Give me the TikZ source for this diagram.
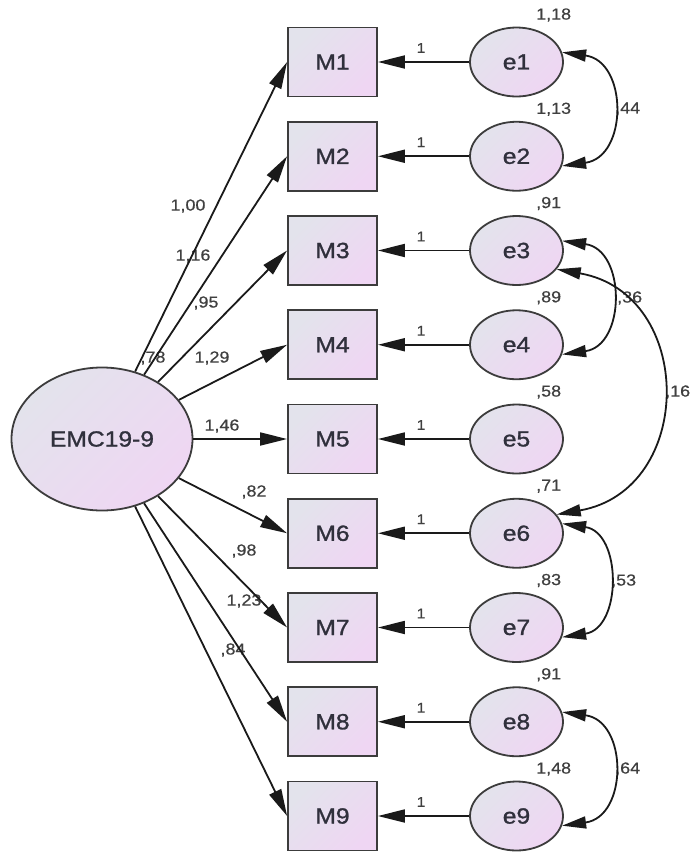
\documentclass[tikz,border=0pt]{standalone}
\usepackage{fontspec}
\setmainfont{Liberation Sans}[FakeStretch=1.12]
\newfontfamily\nodefont{Liberation Sans}[FakeStretch=1.12,FakeBold=1.2]
\newfontfamily\numfont{Liberation Sans}[FakeStretch=1.12,FakeBold=0.5]
\usetikzlibrary{arrows.meta,shapes.geometric}
\definecolor{fillA}{HTML}{E3E3EC}
\definecolor{fillB}{HTML}{EFD6F3}
\definecolor{txt}{HTML}{30303C}
\definecolor{lbl}{HTML}{404040}
\definecolor{ln}{HTML}{1A1A1A}
\begin{document}
\begin{tikzpicture}[x=1pt,y=-1pt,
  shadedbox/.style={top color=fillA,bottom color=fillB,shading angle=45,draw=ln!85!white,line width=1.8pt,text=txt,font=\nodefont\fontsize{22}{22}\selectfont,inner sep=0pt},
  obs/.style={shadedbox,rectangle,minimum width=89pt,minimum height=69pt},
  err/.style={shadedbox,ellipse,minimum width=93pt,minimum height=69pt},
  lat/.style={shadedbox,ellipse,minimum width=181pt,minimum height=143pt},
  conn/.style={draw=ln,line width=1.8pt,-{Triangle[length=27pt,width=13pt]}},
  cov/.style={draw=ln,line width=1.8pt,{Triangle[length=24pt,width=12pt]}-{Triangle[length=24pt,width=12pt]}},
  num/.style={text=lbl,font=\numfont\fontsize{16}{16}\selectfont,inner sep=0pt},
  one/.style={text=lbl,font=\numfont\fontsize{14}{14}\selectfont,inner sep=0pt}]
\fill[white] (0,0) rectangle (692,855);
\useasboundingbox (0,0) rectangle (692,855);

\node[lat] (F) at (102,439) {EMC19-9};

\foreach \i/\y/\v in {1/62/{1,18},2/156.25/{1,13},3/250.5/{,91},4/344.75/{,89},5/439/{,58},6/533.25/{,71},7/627.5/{,83},8/721.75/{,91},9/816/{1,48}}{
  \node[obs] (M\i) at (332.5,\y) {M\i};
  \node[err] (e\i) at (516.5,\y) {e\i};
  \node[one] (one\i) at (421,\y-14) {1};
  \node[num,anchor=west] (var\i) at (536,\y-47) {\v};
}

% loading labels
\node[num] (l1) at (188,206) {1,00};
\node[num] (l2) at (193,256) {1,16};
\node[num] (l3) at (206,303) {,95};
\node[num] (l4) at (153,358) {,78};
\node[num] (l5) at (212,358) {1,29};
\node[num] (l6) at (222,426) {1,46};
\node[num] (l7) at (254,492) {,82};
\node[num] (l8) at (244,551) {,98};
\node[num] (l9) at (244,601) {1,23};
\node[num] (l10) at (233,650) {,84};

% covariance labels
\node[num,anchor=west] (c12) at (615,109) {,44};
\node[num,anchor=west] (c34) at (617,298) {,36};
\node[num,anchor=west] (c36) at (665,392) {,16};
\node[num,anchor=west] (c67) at (611,581) {,53};
\node[num,anchor=west] (c89) at (615,769) {,64};

\foreach \i in {1,...,9}{
  \draw[conn] (F) -- (M\i.west);
  \draw[conn] (e\i) -- (M\i.east);
}

\draw[cov] (e1.12) .. controls +(66,9) and +(66,-9) .. (e2.-12);
\draw[cov] (e3.12) .. controls +(64,9) and +(64,-9) .. (e4.-12);
\draw[cov] (e3.-25) .. controls +(139,24.5) and +(139,-24.5) .. (e6.25);
\draw[cov] (e6.12) .. controls +(60,9) and +(60,-9) .. (e7.-12);
\draw[cov] (e8.12) .. controls +(66,9) and +(66,-9) .. (e9.-12);
\end{tikzpicture}
\end{document}
